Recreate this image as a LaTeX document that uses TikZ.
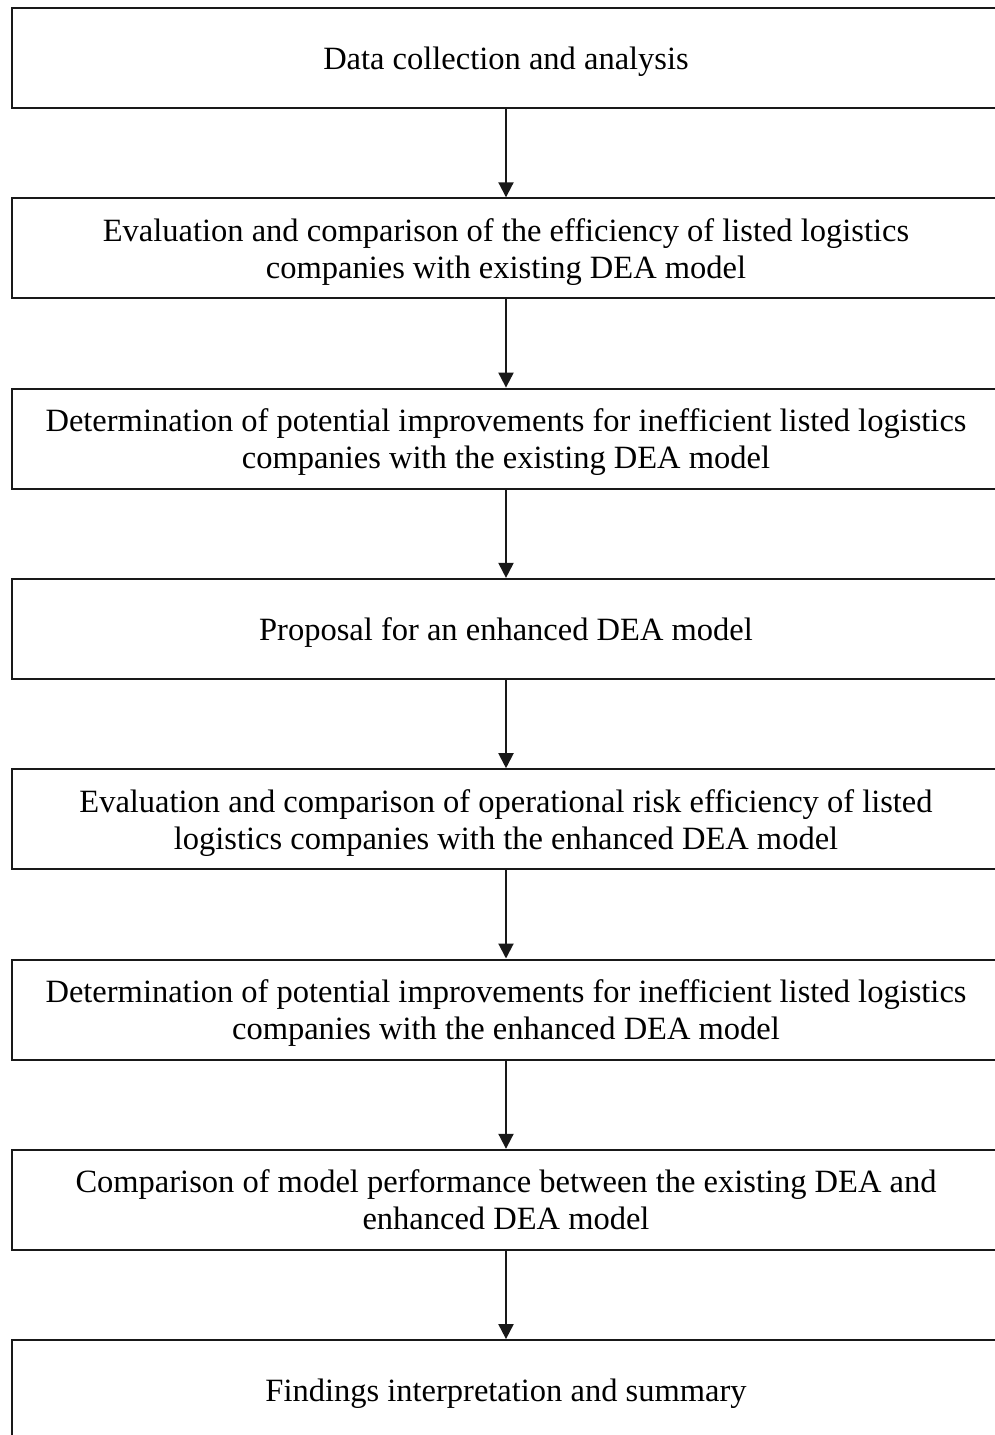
\documentclass[tikz,border=0pt]{standalone}
\usepackage{fontspec}
\setmainfont{Liberation Serif}
\usetikzlibrary{arrows.meta}
\tikzset{
  stepbox/.style={draw=black!90, line width=2pt, minimum width=988pt, minimum height=100pt,
    align=center, inner sep=0pt, text depth=0pt, font=\fontsize{32.5}{37}\selectfont},
  flow/.style={draw=black!90, line width=2pt, -{Triangle[length=15pt,width=15pt]}}
}
\begin{document}
\begin{tikzpicture}[x=1pt, y=-1pt]
\useasboundingbox (0,0) rectangle (995,1435);
\clip (0,0) rectangle (995,1435);
\fill[white] (0,0) rectangle (995,1435);
% steps of the study, top to bottom
\foreach \txt [count=\i] in {
    {Data collection and analysis},
    {Evaluation and comparison of the efficiency of listed logistics\\companies with existing DEA model},
    {Determination of potential improvements for inefficient listed logistics\\companies with the existing DEA model},
    {Proposal for an enhanced DEA model},
    {Evaluation and comparison of operational risk efficiency of listed\\logistics companies with the enhanced DEA model},
    {Determination of potential improvements for inefficient listed logistics\\companies with the enhanced DEA model},
    {Comparison of model performance between the existing DEA and\\enhanced DEA model},
    {Findings interpretation and summary}} {
  \node[stepbox] (box\i) at (506,{58+190.3*(\i-1)}) {\txt};
}
% arrows between the steps
\foreach \i [count=\j from 2] in {1,...,7}
  \draw[flow] (box\i) -- (box\j);
\end{tikzpicture}
\end{document}
